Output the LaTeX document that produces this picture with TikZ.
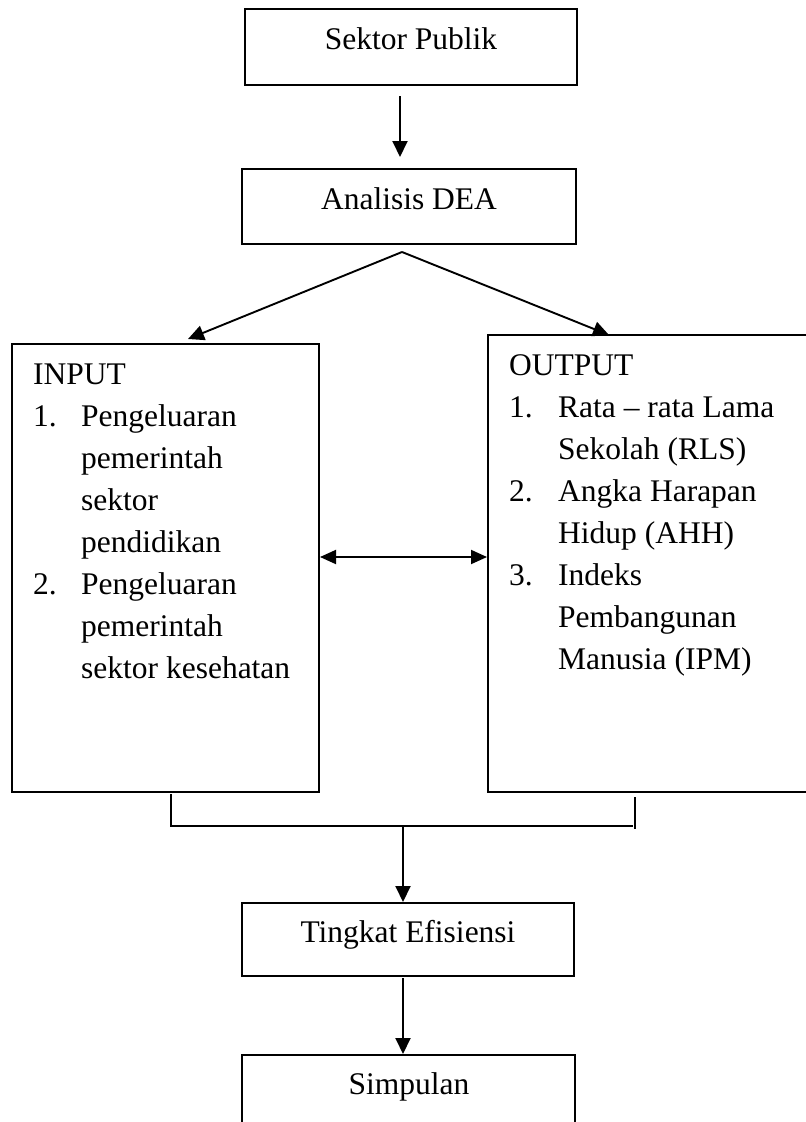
\documentclass[tikz,border=0pt]{standalone}
\usepackage{fontspec}
\setmainfont{Liberation Serif}
\usetikzlibrary{arrows.meta}
\begin{document}
\begin{tikzpicture}[x=1pt,y=-1pt,
  box/.style={draw=black, line width=1.9pt, rectangle, inner sep=0pt},
  txt/.style={inner sep=0pt, font=\fontsize{31.5}{42}\selectfont},
  arr/.style={line width=1.9pt, -{Triangle[length=16pt,width=15pt]}},
  darr/.style={line width=1.9pt, {Triangle[length=16pt,width=14pt]}-{Triangle[length=16pt,width=14pt]}},
  ln/.style={line width=1.9pt}]
\useasboundingbox (0,0) rectangle (806,1122);
\fill[white] (0,0) rectangle (806,1122);

% boxes
\node[box, minimum width=332pt, minimum height=76pt] (sektor) at (411,47) {};
\node[box, minimum width=334pt, minimum height=75pt] (dea) at (409,206.5) {};
\node[box, minimum width=307pt, minimum height=448pt] (input) at (165.5,568) {};
\node[box, minimum width=330pt, minimum height=457pt] (output) at (653,563.5) {};
\node[box, minimum width=332pt, minimum height=73pt] (tingkat) at (408,939.5) {};
\node[box, minimum width=333pt, minimum height=90pt] (simpulan) at (408.5,1100) {};

% texts
\node[txt, anchor=base] (sektorT) at (411,49) {Sektor Publik};
\node[txt, anchor=base] (deaT) at (409,209) {Analisis DEA};
\node[txt, anchor=base] (tingkatT) at (408,942) {Tingkat Efisiensi};
\node[txt, anchor=base] (simpulanT) at (409,1094) {Simpulan};

\node[txt, anchor=base west] (inputT) at (33,384) {\setlength{\tabcolsep}{0pt}%
\begin{tabular}[t]{@{}p{48pt}@{}l@{}}
\multicolumn{2}{@{}l@{}}{INPUT}\\
1. & Pengeluaran\\
   & pemerintah\\
   & sektor\\
   & pendidikan\\
2. & Pengeluaran\\
   & pemerintah\\
   & sektor kesehatan
\end{tabular}};

\node[txt, anchor=base west] (outputT) at (509,375) {\setlength{\tabcolsep}{0pt}%
\begin{tabular}[t]{@{}p{49pt}@{}l@{}}
\multicolumn{2}{@{}l@{}}{OUTPUT}\\
1. & Rata – rata Lama\\
   & Sekolah (RLS)\\
2. & Angka Harapan\\
   & Hidup (AHH)\\
3. & Indeks\\
   & Pembangunan\\
   & Manusia (IPM)
\end{tabular}};

% connectors
\coordinate (a1s) at (400,96);
\coordinate (a1e) at (400,157);
\draw[arr] (a1s) -- (a1e);

\coordinate (apex) at (402,252);
\coordinate (tipL) at (188,339);
\coordinate (tipR) at (609,335);
\draw[arr] (apex) -- (tipL);
\draw[arr] (apex) -- (tipR);

\coordinate (dL) at (320,557);
\coordinate (dR) at (487,557);
\draw[darr] (dL) -- (dR);

\coordinate (brL1) at (171,794);
\coordinate (brL2) at (171,826);
\coordinate (brM) at (403,826);
\coordinate (brR) at (633,826);
\coordinate (brR1) at (635,797);
\coordinate (brR2) at (635,829);
\draw[ln] (brL1) -- (brL2) -- (brR);
\draw[ln] (brR1) -- (brR2);

\coordinate (a3e) at (403,902);
\draw[arr] (brM) -- (a3e);

\coordinate (a4s) at (403,978);
\coordinate (a4e) at (403,1054);
\draw[arr] (a4s) -- (a4e);
\end{tikzpicture}
\end{document}
